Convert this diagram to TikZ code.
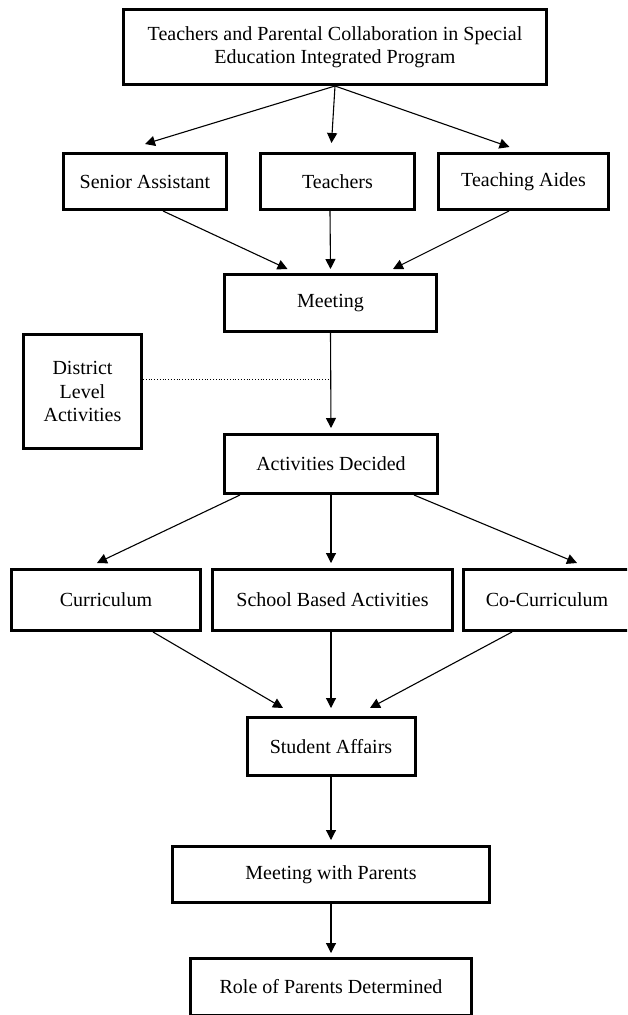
\documentclass[tikz,border=0pt]{standalone}
\usepackage{fontspec}
\setmainfont{Liberation Serif}
\usetikzlibrary{arrows.meta}
\tikzset{
  box/.style={draw, line width=3pt, inner sep=0pt, align=center,
    font=\fontsize{20}{23.5}\selectfont},
  flow/.style={line width=1.1pt, -{Triangle[length=10pt,width=10pt]}}
}
\begin{document}
\begin{tikzpicture}[x=1pt,y=-1pt]
  \clip (0,0) rectangle (627,1015);
  % boxes, placed at the pixel centres of the chart
  \node[box, minimum width=423, minimum height=75] (top) at (335,47)
    {Teachers and Parental Collaboration in Special\\Education Integrated Program};
  \node[box, minimum width=163, minimum height=56] (sa) at (145,181.5) {Senior Assistant};
  \node[box, minimum width=154, minimum height=56] (tch) at (337.5,181.5) {Teachers};
  \node[box, minimum width=170, minimum height=56] (aides) at (523.5,181.5) {Teaching Aides};
  \node[box, minimum width=212, minimum height=57] (meet) at (330.5,303) {Meeting};
  \node[box, minimum width=118, minimum height=114] (dist) at (82.5,391.5) {District\\Level\\Activities};
  \node[box, minimum width=213, minimum height=59] (act) at (331,464) {Activities Decided};
  \node[box, minimum width=189, minimum height=61] (cur) at (106,600) {Curriculum};
  \node[box, minimum width=240, minimum height=61] (sba) at (332.5,600) {School Based Activities};
  \node[box, minimum width=167, minimum height=61] (cocur) at (547,600) {Co-Curriculum};
  \node[box, minimum width=168, minimum height=58] (stu) at (331,746.5) {Student Affairs};
  \node[box, minimum width=317, minimum height=56] (mwp) at (331,874.5) {Meeting with Parents};
  \node[box, minimum width=281, minimum height=57] (role) at (331,987) {Role of Parents Determined};

  \draw[flow] (top.south) -- ([yshift=8pt]sa.north);
  \draw[flow] (top.south) -- ([xshift=-6pt,yshift=9pt]tch.north);
  \draw[flow] (top.south) -- ([xshift=-14pt,yshift=5pt]aides.north);

  \draw[flow] ([xshift=18pt]sa.south) -- ([xshift=-43pt,yshift=4pt]meet.north);
  \draw[flow] ([xshift=-7.5pt]tch.south) -- ([yshift=4pt]meet.north);
  \draw[flow] ([xshift=-14.5pt]aides.south) -- ([xshift=62.5pt,yshift=4pt]meet.north);

  \draw[flow] (meet.south) -- ([yshift=5pt]act.north);
  \coordinate (dl) at ([yshift=12.5pt]dist.east);
  \draw[dotted, line width=0.8pt] (dl) -- (dl -| meet.south);

  \draw[flow] ([xshift=-91pt]act.south) -- ([xshift=-9pt,yshift=5pt]cur.north);
  \draw[flow] (act.south) -- ([xshift=-1.5pt,yshift=5pt]sba.north);
  \draw[flow] ([xshift=83pt]act.south) -- ([xshift=30pt,yshift=5pt]cocur.north);

  \draw[flow] ([xshift=47pt]cur.south) -- ([xshift=-48pt,yshift=8pt]stu.north);
  \draw[flow] ([xshift=-1.5pt]sba.south) -- ([yshift=8pt]stu.north);
  \draw[flow] ([xshift=-35pt]cocur.south) -- ([xshift=39pt,yshift=8pt]stu.north);

  \draw[flow] (stu.south) -- ([yshift=5pt]mwp.north);
  \draw[flow] (mwp.south) -- ([yshift=4pt]role.north);
\end{tikzpicture}
\end{document}
